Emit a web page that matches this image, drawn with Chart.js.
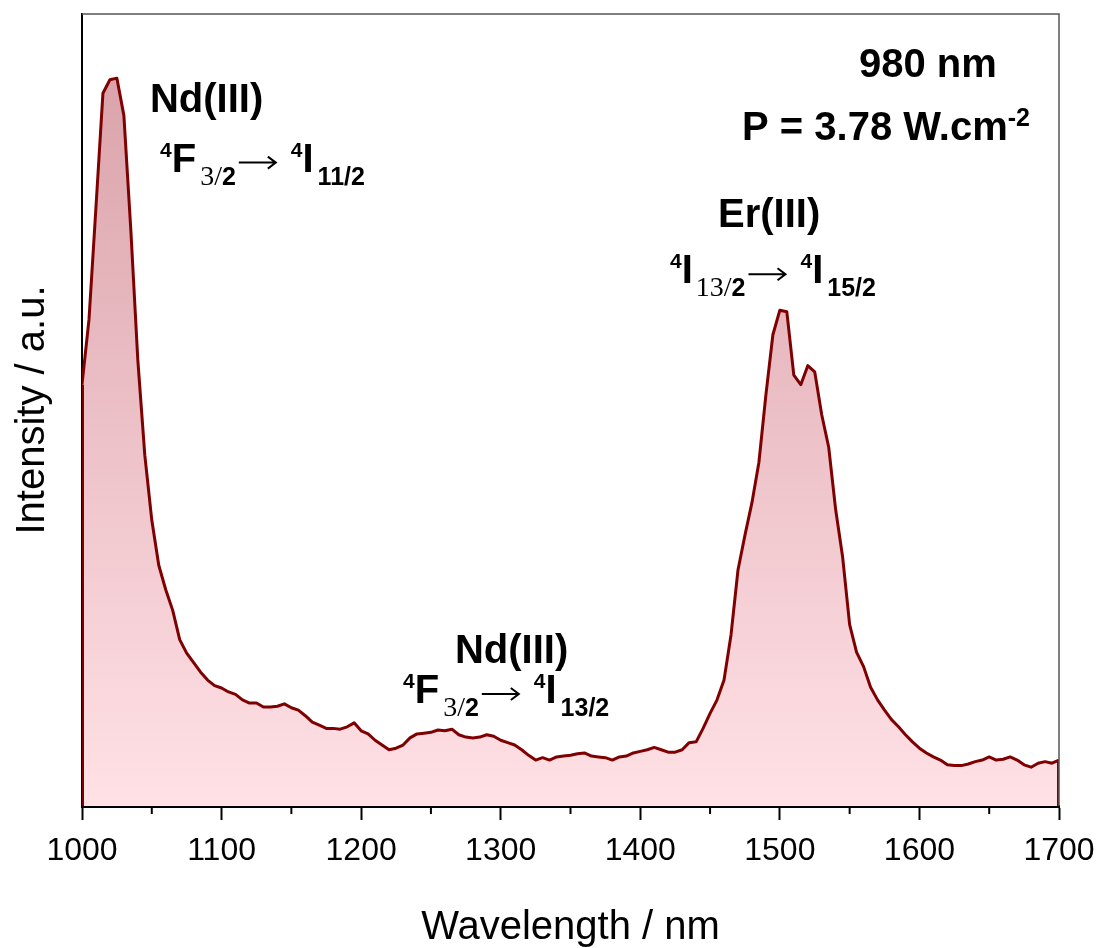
<!DOCTYPE html>
<html>
<head>
<meta charset="utf-8">
<title>Emission spectrum, 980 nm excitation</title>
<script src="https://cdn.jsdelivr.net/npm/chart.js@4.4.1/dist/chart.umd.min.js"></script>
<style>
    html, body { margin: 0; padding: 0; background: #fff; }
    #wrap { width: 1101px; height: 948px; position: relative; }
</style>
</head>
<body>
<div id="wrap"><canvas id="spectrumChart"></canvas></div>
<script>

// wavelength in nm, read every 5 nm off the picture
var wavelengths = [
    1000, 1005, 1010, 1015, 1020, 1025, 1030, 1035, 1040, 1045,
    1050, 1055, 1060, 1065, 1070, 1075, 1080, 1085, 1090, 1095,
    1100, 1105, 1110, 1115, 1120, 1125, 1130, 1135, 1140, 1145,
    1150, 1155, 1160, 1165, 1170, 1175, 1180, 1185, 1190, 1195,
    1200, 1205, 1210, 1215, 1220, 1225, 1230, 1235, 1240, 1245,
    1250, 1255, 1260, 1265, 1270, 1275, 1280, 1285, 1290, 1295,
    1300, 1305, 1310, 1315, 1320, 1325, 1330, 1335, 1340, 1345,
    1350, 1355, 1360, 1365, 1370, 1375, 1380, 1385, 1390, 1395,
    1400, 1405, 1410, 1415, 1420, 1425, 1430, 1435, 1440, 1445,
    1450, 1455, 1460, 1465, 1470, 1475, 1480, 1485, 1490, 1495,
    1500, 1505, 1510, 1515, 1520, 1525, 1530, 1535, 1540, 1545,
    1550, 1555, 1560, 1565, 1570, 1575, 1580, 1585, 1590, 1595,
    1600, 1605, 1610, 1615, 1620, 1625, 1630, 1635, 1640, 1645,
    1650, 1655, 1660, 1665, 1670, 1675, 1680, 1685, 1690, 1695,
    1700
];

// intensity (a.u., 0-100 = full height of the frame)
var intensity = [
    53.2, 61.4, 75.6, 90.0, 91.7, 91.9, 87.2, 72.7, 56.3, 44.3,
    36.1, 30.4, 27.3, 24.7, 21.0, 19.3, 18.1, 16.9, 15.9, 15.2,
    14.9, 14.4, 14.1, 13.4, 13.0, 13.0, 12.5, 12.5, 12.6, 12.9,
    12.4, 12.1, 11.4, 10.6, 10.2, 9.8, 9.8, 9.7, 10.0, 10.5,
    9.5, 9.1, 8.3, 7.7, 7.1, 7.3, 7.7, 8.6, 9.1, 9.2,
    9.3, 9.6, 9.5, 9.7, 9.0, 8.7, 8.6, 8.7, 9.0, 8.8,
    8.3, 8.0, 7.7, 7.1, 6.4, 5.8, 6.1, 5.8, 6.2, 6.3,
    6.4, 6.6, 6.7, 6.3, 6.2, 6.1, 5.8, 6.2, 6.3, 6.7,
    6.9, 7.1, 7.4, 7.1, 6.8, 6.8, 7.1, 8.0, 8.1, 9.8,
    11.7, 13.4, 15.9, 21.6, 29.8, 34.2, 38.3, 43.4, 51.9, 59.5,
    62.6, 62.4, 54.4, 53.2, 55.6, 54.8, 49.4, 45.3, 37.4, 31.4,
    22.9, 19.4, 17.6, 15.0, 13.4, 12.1, 10.9, 10.0, 9.0, 8.1,
    7.3, 6.7, 6.2, 5.8, 5.2, 5.1, 5.1, 5.3, 5.6, 5.8,
    6.2, 5.8, 5.9, 6.2, 5.8, 5.2, 4.9, 5.4, 5.6, 5.4,
    5.8
];

var xTickValues = [1000, 1100, 1200, 1300, 1400, 1500, 1600, 1700];
var xTickLabels = ["1000", "1100", "1200", "1300", "1400", "1500", "1600", "1700"];

var SANS = "'Liberation Sans', Arial, sans-serif";
var SERIF = "'Liberation Serif', 'Times New Roman', serif";

// text styles for the rich labels (font, baseline shift)
var textStyles = {
    main: { font: "bold 40px " + SANS, dy: 0 },
    sup: { font: "bold 21px " + SANS, dy: -15 },
    supP: { font: "bold 25px " + SANS, dy: -14 },
    sub: { font: "bold 25px " + SANS, dy: 13 },
    subR: { font: "28px " + SERIF, dy: 13 }
};

// annotations, placed in data coordinates (left edge, baseline)
// a part is [text, style, extra space after]; "arrow" is drawn as lines
var annotations = [
    { x: 1048.7, y: 87.6, parts: [["Nd(III)", "main"]] },
    { x: 1055.9, y: 80.1, parts: [["4", "sup"], ["F", "main", 4], ["3/", "subR"], ["2", "sub", 2], ["", "arrow"], ["4", "sup"], ["I", "main", 4], ["11/2", "sub"]] },
    { x: 1455.7, y: 73.1, parts: [["Er(III)", "main"]] },
    { x: 1421.3, y: 66.0, parts: [["4", "sup"], ["I", "main", 3], ["13/", "subR"], ["2", "sub", 2], ["", "arrow"], ["4", "sup"], ["I", "main", 4], ["15/2", "sub"]] },
    { x: 1267.2, y: 18.1, parts: [["Nd(III)", "main"]] },
    { x: 1230.0, y: 13.0, parts: [["4", "sup"], ["F", "main", 4], ["3/", "subR"], ["2", "sub", 2], ["", "arrow"], ["4", "sup"], ["I", "main", 4], ["13/2", "sub"]] },
    { x: 1556.7, y: 92.0, parts: [["980 nm", "main"]] },
    { x: 1472.9, y: 84.1, parts: [["P = 3.78 W.cm", "main"], ["-2", "supP"]] }
];

(function () {

    var points = wavelengths.map(function (w, i) {
        return { x: w, y: intensity[i] };
    });

    function drawArrow(ctx, x, y) {
        // thin arrow like the one in the original labels
        ctx.save();
        ctx.strokeStyle = "#000";
        ctx.lineWidth = 2;
        ctx.beginPath();
        ctx.moveTo(x + 1, y - 9);
        ctx.lineTo(x + 38, y - 9);
        ctx.moveTo(x + 30, y - 15);
        ctx.lineTo(x + 38, y - 9);
        ctx.lineTo(x + 30, y - 3);
        ctx.stroke();
        ctx.restore();
        return 53;
    }

    function drawRich(ctx, x, y, parts) {
        ctx.save();
        ctx.fillStyle = "#000";
        ctx.textAlign = "left";
        ctx.textBaseline = "alphabetic";
        parts.forEach(function (p) {
            if (p[1] === "arrow") {
                x += drawArrow(ctx, x, y);
                return;
            }
            var st = textStyles[p[1]];
            ctx.font = st.font;
            ctx.fillText(p[0], x, y + st.dy);
            x += ctx.measureText(p[0]).width + (p[2] || 0);
        });
        ctx.restore();
    }

    var extrasPlugin = {
        id: "extras",
        afterDatasetsDraw: function (chart) {
            // the filled area is edged in dark red at both ends
            var ctx = chart.ctx;
            var xs = chart.scales.x, ys = chart.scales.y;
            var first = points[0], last = points[points.length - 1];
            ctx.save();
            ctx.strokeStyle = "#7f0000";
            ctx.lineWidth = 2;
            ctx.beginPath();
            ctx.moveTo(xs.getPixelForValue(first.x) + 1, ys.getPixelForValue(first.y));
            ctx.lineTo(xs.getPixelForValue(first.x) + 1, ys.getPixelForValue(0));
            ctx.moveTo(xs.getPixelForValue(last.x) - 1, ys.getPixelForValue(last.y));
            ctx.lineTo(xs.getPixelForValue(last.x) - 1, ys.getPixelForValue(0));
            ctx.stroke();
            ctx.restore();
        },
        afterDraw: function (chart) {
            var ctx = chart.ctx;
            var area = chart.chartArea;
            var xs = chart.scales.x, ys = chart.scales.y;

            // thin top and right frame
            ctx.save();
            ctx.strokeStyle = "#555";
            ctx.lineWidth = 1.5;
            ctx.beginPath();
            ctx.moveTo(area.left, area.top);
            ctx.lineTo(area.right, area.top);
            ctx.lineTo(area.right, area.bottom);
            ctx.stroke();

            // minor ticks every 50 nm
            ctx.strokeStyle = "#000";
            ctx.lineWidth = 2;
            xs.ticks.forEach(function (t) {
                if (t.value % 100 !== 0) {
                    var px = xs.getPixelForValue(t.value);
                    ctx.beginPath();
                    ctx.moveTo(px, area.bottom);
                    ctx.lineTo(px, area.bottom + 8);
                    ctx.stroke();
                }
            });
            ctx.restore();

            annotations.forEach(function (a) {
                drawRich(ctx, xs.getPixelForValue(a.x), ys.getPixelForValue(a.y), a.parts);
            });
        }
    };

    var canvas = document.getElementById("spectrumChart");

    new Chart(canvas, {
        type: "line",
        data: {
            datasets: [{
                label: "Emission",
                data: points,
                borderColor: "#7f0000",
                borderWidth: 3,
                borderJoinStyle: "round",
                pointRadius: 0,
                tension: 0,
                fill: "origin",
                backgroundColor: function (c) {
                    var area = c.chart.chartArea;
                    if (!area) {
                        return "rgba(250,210,216,1)";
                    }
                    var g = c.chart.ctx.createLinearGradient(0, area.top, 0, area.bottom);
                    g.addColorStop(0, "rgb(216,158,166)");
                    g.addColorStop(1, "rgb(255,225,230)");
                    return g;
                }
            }]
        },
        options: {
            responsive: true,
            maintainAspectRatio: false,
            animation: false,
            layout: { padding: { top: 14, right: 42, left: 0, bottom: 0 } },
            plugins: {
                legend: { display: false },
                tooltip: { enabled: false }
            },
            scales: {
                x: {
                    type: "linear",
                    min: 1000,
                    max: 1700,
                    afterFit: function (scale) {
                        scale.height = 142;
                        // the end labels fit in the margins already
                        scale.paddingLeft = 0;
                        scale.paddingRight = 0;
                    },
                    ticks: {
                        stepSize: 50,
                        autoSkip: false,
                        maxRotation: 0,
                        padding: 12,
                        color: "#000",
                        font: { family: SANS, size: 32 },
                        callback: function (value) {
                            var i = xTickValues.indexOf(value);
                            return i >= 0 ? xTickLabels[i] : "";
                        }
                    },
                    grid: {
                        drawOnChartArea: false,
                        drawTicks: true,
                        tickLength: 14,
                        tickWidth: 2,
                        tickColor: function (c) {
                            return c.tick && c.tick.value % 100 === 0 ? "#000" : "rgba(0,0,0,0)";
                        }
                    },
                    border: { display: true, color: "#000", width: 3 },
                    title: {
                        display: true,
                        text: "Wavelength / nm",
                        color: "#000",
                        font: { family: SANS, size: 40, lineHeight: 1 },
                        padding: { top: 0, bottom: 0 }
                    }
                },
                y: {
                    min: 0,
                    max: 100,
                    afterFit: function (scale) { scale.width = 82; },
                    ticks: { display: false },
                    grid: { display: false },
                    border: { display: true, color: "#000", width: 2 },
                    title: {
                        display: true,
                        text: "Intensity / a.u.",
                        color: "#000",
                        font: { family: SANS, size: 40, lineHeight: 1 },
                        padding: { top: 13, bottom: 0 }
                    }
                }
            }
        },
        plugins: [extrasPlugin]
    });

})();
</script>
</body>
</html>
